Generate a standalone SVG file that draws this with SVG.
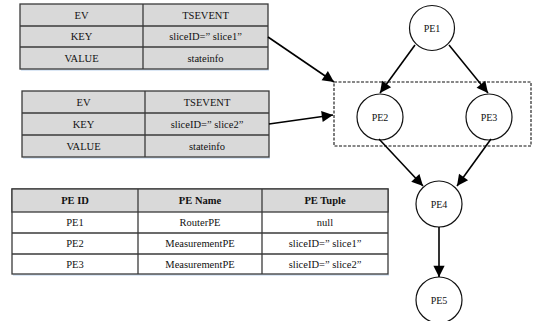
<svg xmlns="http://www.w3.org/2000/svg" width="533" height="321" viewBox="0 0 533 321">
<style>
text{font-family:"Liberation Serif","Times New Roman",serif;font-size:10.5px;fill:#111;text-anchor:middle;dominant-baseline:central}
.b{font-weight:bold}
.cell{stroke:#3a3a3a;stroke-width:1.3}
.g{fill:#d9d9d9}
.w{fill:#fff}
.node circle{fill:#fff;stroke:#111;stroke-width:1.2}
.node text{font-size:10px}
.sh{fill:#dbe7f5}
.conn line{stroke:#000;stroke-width:1.6;marker-end:url(#ah)}
</style>
<defs>
<marker id="ah" viewBox="0 0 10 10" refX="10" refY="5" markerWidth="7" markerHeight="7" markerUnits="userSpaceOnUse" orient="auto" overflow="visible">
<path d="M0,0 L10,5 L0,10 z" fill="#000" transform="scale(1.6) translate(-3.75,-1.875)"/>
</marker>
</defs>
<rect width="533" height="321" fill="#fff"/>

<g id="table1">
<rect x="21" y="69" width="248" height="2" class="sh"/>
<rect x="20" y="4" width="248" height="65" class="cell g"/>
<line x1="20" y1="26" x2="268" y2="26" class="cell"/>
<line x1="20" y1="47" x2="268" y2="47" class="cell"/>
<line x1="143" y1="4" x2="143" y2="69" class="cell"/>
<text x="81.5" y="15">EV</text><text x="205.5" y="15">TSEVENT</text>
<text x="81.5" y="36.5">KEY</text><text x="205.5" y="36.5">sliceID=” slice1”</text>
<text x="81.5" y="58">VALUE</text><text x="205.5" y="58">stateinfo</text>
</g>

<g id="table2">
<rect x="23" y="157" width="247" height="2" class="sh"/>
<rect x="22" y="91" width="247" height="66" class="cell g"/>
<line x1="22" y1="113" x2="269" y2="113" class="cell"/>
<line x1="22" y1="135" x2="269" y2="135" class="cell"/>
<line x1="145" y1="91" x2="145" y2="157" class="cell"/>
<text x="83.5" y="102">EV</text><text x="207" y="102">TSEVENT</text>
<text x="83.5" y="124">KEY</text><text x="207" y="124">sliceID=” slice2”</text>
<text x="83.5" y="146">VALUE</text><text x="207" y="146">stateinfo</text>
</g>

<g id="table3">
<rect x="13" y="274" width="376" height="2" class="sh"/>
<rect x="12" y="189" width="376" height="85" class="cell w"/>
<rect x="12" y="189" width="376" height="23" class="cell g"/>
<line x1="12" y1="233" x2="388" y2="233" class="cell"/>
<line x1="12" y1="254" x2="388" y2="254" class="cell"/>
<line x1="138" y1="189" x2="138" y2="274" class="cell"/>
<line x1="262" y1="189" x2="262" y2="274" class="cell"/>
<text x="75" y="200.5" class="b">PE ID</text><text x="200" y="200.5" class="b">PE Name</text><text x="325" y="200.5" class="b">PE Tuple</text>
<text x="75" y="222.5">PE1</text><text x="200" y="222.5">RouterPE</text><text x="325" y="222.5">null</text>
<text x="75" y="243.5">PE2</text><text x="200" y="243.5">MeasurementPE</text><text x="325" y="243.5">sliceID=” slice1”</text>
<text x="75" y="264">PE3</text><text x="200" y="264">MeasurementPE</text><text x="325" y="264">sliceID=” slice2”</text>
</g>

<g id="group">
<rect x="334" y="82" width="197" height="64" fill="none" stroke="#111" stroke-width="1.1" stroke-dasharray="3,1.5"/>
</g>

<g id="PE1" class="node"><circle cx="432" cy="28" r="22.5"/><text x="432" y="28">PE1</text></g>
<g id="PE2" class="node"><circle cx="380" cy="117" r="23"/><text x="380" y="117">PE2</text></g>
<g id="PE3" class="node"><circle cx="489" cy="117" r="23"/><text x="489" y="117">PE3</text></g>
<g id="PE4" class="node"><circle cx="439" cy="204" r="23"/><text x="439" y="204">PE4</text></g>
<g id="PE5" class="node"><circle cx="439" cy="300" r="23"/><text x="439" y="300">PE5</text></g>

<g id="connectors" class="conn">
<line x1="268" y1="37" x2="334" y2="82"/>
<line x1="269" y1="124" x2="333" y2="115"/>
<line x1="415" y1="45" x2="380" y2="93"/>
<line x1="449" y1="45" x2="488" y2="93"/>
<line x1="379" y1="139" x2="423" y2="186"/>
<line x1="491" y1="139" x2="457" y2="186"/>
<line x1="439" y1="227" x2="439" y2="277"/>
</g>
</svg>
